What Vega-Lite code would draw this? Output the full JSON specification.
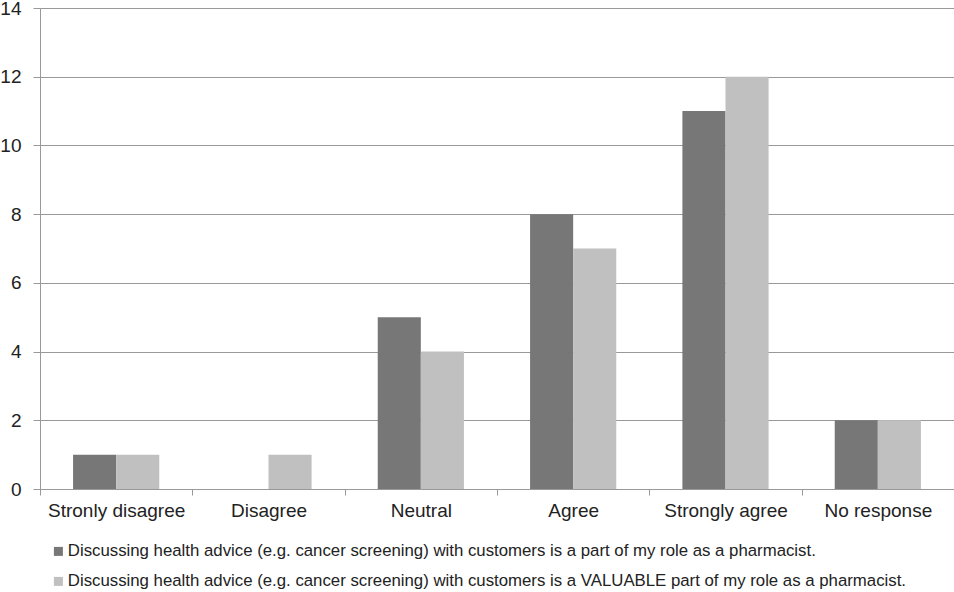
{
  "$schema": "https://vega.github.io/schema/vega-lite/v6.json",
  "width": 914,
  "height": 481,
  "autosize": {"type": "none"},
  "padding": {"left": 40, "top": 8, "right": 0, "bottom": 103},
  "background": "white",
  "config": {
    "view": {"stroke": null},
    "font": "Liberation Sans"
  },
  "data": {
    "values": [
      {"category": "Stronly disagree", "series": "Discussing health advice (e.g. cancer screening) with customers is a part of my role as a pharmacist.", "value": 1},
      {"category": "Stronly disagree", "series": "Discussing health advice (e.g. cancer screening) with customers is a VALUABLE part of my role as a pharmacist.", "value": 1},
      {"category": "Disagree", "series": "Discussing health advice (e.g. cancer screening) with customers is a part of my role as a pharmacist.", "value": 0},
      {"category": "Disagree", "series": "Discussing health advice (e.g. cancer screening) with customers is a VALUABLE part of my role as a pharmacist.", "value": 1},
      {"category": "Neutral", "series": "Discussing health advice (e.g. cancer screening) with customers is a part of my role as a pharmacist.", "value": 5},
      {"category": "Neutral", "series": "Discussing health advice (e.g. cancer screening) with customers is a VALUABLE part of my role as a pharmacist.", "value": 4},
      {"category": "Agree", "series": "Discussing health advice (e.g. cancer screening) with customers is a part of my role as a pharmacist.", "value": 8},
      {"category": "Agree", "series": "Discussing health advice (e.g. cancer screening) with customers is a VALUABLE part of my role as a pharmacist.", "value": 7},
      {"category": "Strongly agree", "series": "Discussing health advice (e.g. cancer screening) with customers is a part of my role as a pharmacist.", "value": 11},
      {"category": "Strongly agree", "series": "Discussing health advice (e.g. cancer screening) with customers is a VALUABLE part of my role as a pharmacist.", "value": 12},
      {"category": "No response", "series": "Discussing health advice (e.g. cancer screening) with customers is a part of my role as a pharmacist.", "value": 2},
      {"category": "No response", "series": "Discussing health advice (e.g. cancer screening) with customers is a VALUABLE part of my role as a pharmacist.", "value": 2}
    ]
  },
  "mark": {"type": "bar"},
  "encoding": {
    "x": {
      "field": "category",
      "type": "nominal",
      "sort": ["Stronly disagree", "Disagree", "Neutral", "Agree", "Strongly agree", "No response"],
      "scale": {"paddingInner": 0, "paddingOuter": 0},
      "axis": {
        "title": null,
        "labelAngle": 0,
        "labelFontSize": 19,
        "labelColor": "#222222",
        "labelPadding": 6,
        "tickBand": "extent",
        "tickSize": 6,
        "tickColor": "#999999",
        "domainColor": "#999999",
        "grid": false
      }
    },
    "xOffset": {
      "field": "series",
      "type": "nominal",
      "sort": [
        "Discussing health advice (e.g. cancer screening) with customers is a part of my role as a pharmacist.",
        "Discussing health advice (e.g. cancer screening) with customers is a VALUABLE part of my role as a pharmacist."
      ],
      "scale": {"paddingInner": 0, "paddingOuter": 0.767}
    },
    "y": {
      "field": "value",
      "type": "quantitative",
      "scale": {"domain": [0, 14], "nice": false},
      "axis": {
        "title": null,
        "values": [0, 2, 4, 6, 8, 10, 12, 14],
        "labelFontSize": 19,
        "labelColor": "#222222",
        "labelPadding": 12,
        "tickSize": 7,
        "tickColor": "#999999",
        "domainColor": "#999999",
        "gridColor": "#999999",
        "gridOpacity": 1
      }
    },
    "color": {
      "field": "series",
      "type": "nominal",
      "scale": {
        "domain": [
          "Discussing health advice (e.g. cancer screening) with customers is a part of my role as a pharmacist.",
          "Discussing health advice (e.g. cancer screening) with customers is a VALUABLE part of my role as a pharmacist."
        ],
        "range": ["#777777", "#c0c0c0"]
      },
      "legend": {
        "title": null,
        "orient": "none",
        "legendX": 10,
        "legendY": 535,
        "direction": "vertical",
        "padding": 0,
        "symbolType": "square",
        "symbolSize": 81,
        "symbolStrokeWidth": 0,
        "labelFontSize": 16.8,
        "labelColor": "#222222",
        "labelOffset": 1,
        "labelLimit": 0,
        "rowPadding": 12
      }
    }
  }
}
